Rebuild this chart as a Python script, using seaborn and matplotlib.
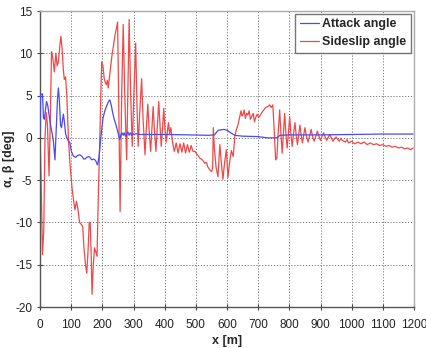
import matplotlib
matplotlib.use("Agg")
import matplotlib.pyplot as plt
import seaborn as sns
import pandas as pd

# Sideslip angle (beta) samples [m, deg]
side_x = [0, 3, 8, 12, 16, 20, 24, 29, 33, 37, 41, 46, 51, 55, 59, 64, 67, 71, 75, 78, 82, 86, 91, 96,
          103, 108, 112, 117, 122, 127, 132, 137, 141, 146, 150, 154, 158, 161, 164, 167, 171, 175, 179,
          183, 187, 192, 195, 198, 202, 206, 210, 213, 216, 219, 230, 240, 249, 253, 257, 262, 267, 272,
          278, 282, 286, 291, 296, 301, 307, 311, 315, 320, 326, 331, 337, 341, 346, 350, 355, 359, 363,
          367, 372, 376, 381, 385, 389, 393, 397, 401, 405, 409, 412, 416, 420, 425, 431, 437, 443,
          449, 455, 461, 467, 473, 479, 485, 491, 497, 505, 513, 521, 529, 534, 538, 545,
          551, 554, 556, 560, 565, 571, 577, 582, 587, 592, 598, 603, 608, 614, 620, 625, 630, 635, 641,
          645, 648, 651, 655, 659, 663, 667, 671, 675, 680, 684, 688, 692, 697, 702, 707, 712, 718, 724,
          731, 737, 742, 747, 752, 756, 760, 764, 769, 773, 777, 781, 785, 789, 793, 797, 801, 805, 809,
          813, 818, 822, 826, 830, 834, 838, 842, 846, 850, 855, 860, 865, 870, 875, 880, 885, 890, 895,
          900, 905, 910, 915, 920, 925, 930, 935, 940, 945, 950, 960, 965, 970, 980, 985, 990, 1000, 1010,
          1020, 1030, 1040, 1050, 1060, 1070, 1080, 1090, 1100, 1110, 1120, 1130, 1140, 1150, 1160, 1170,
          1180, 1190, 1197]
side_y = [0, -4, -13.8, -11, 0, 3, 1.5, -4.5, 2, 10.2, 9.5, 7.8, 10, 8.5, 9, 11, 12, 10.5, 8, 6.9, 7.2, 5,
          0, -3, -6, -7.5, -8.5, -7.5, -8.5, -10, -10.2, -10.5, -13, -15, -16, -13.5, -10, -10, -13.5,
          -18.5, -15, -13, -13.5, -14, -7, 0, 5, 9, 8.5, 7, 6.5, 6.3, 6.8, 5.9, 9.5, 12, 13.7, 3, -8.7, 5,
          13.4, 5, -2.6, 6, 14, 5, -1, 5, 11.2, 4, -1, 3, 7, 2, -2, 1, 4, 1, -1.6, 1, 3.7, 1, -1.6, 1, 4.3,
          1.5, -1, 1, 3.5, 1, -0.5, 0.8, 1.8, 0.5, 1.2, -0.5, -1.6, -0.6, -1.8, -0.7, -1.7, -0.6, -1.8,
          -0.8, -1.7, -0.9, -1.6, -1.6, -2.0, -2.4, -2.6, -3.0, -2.9, -3.4, -3.8,
          -4.0, -3.5, 1.2, -1.5, -3.5, -4.6, -0.8, -3, -4.9, -3, -1.4, -4.7, -3, -1.5, -2.2, 0.1, 1, 1.5,
          2.5, 3.2, 2.6, 2.7, 3.3, 2.3, 2.9, 2.7, 3.2, 2.2, 2.6, 2.9, 1.9, 2.4, 2.8, 2.4, 2.7, 3.0, 3.3,
          3.6, 3.7, 3.9, 3.6, 3.9, 0.5, -2.6, -2.4, 0.5, 3.3, 0.5, -1.8, 0.5, 2.9, 0.5, -1.2, 0.5, 2.5,
          0.5, -1.0, 0.3, 1.8, 0.3, -0.8, 0.3, 1.5, 0.3, -0.6, 0.3, 1.2, 0.2, -0.5, 0.2, 1.0, 0.1, -0.4,
          0.2, 0.8, 0.2, -0.3, 0.2, 0.6, 0.1, -0.3, 0.1, 0.4, 0.0, -0.4, -0.1, 0.1, -0.4, -0.1, -0.3, -0.5,
          -0.2, -0.6, -0.4, -0.7, -0.5, -0.7, -0.5, -0.8, -0.6, -0.8, -0.7, -0.9, -0.8, -1.0, -0.9, -1.1,
          -1.0, -1.2, -1.1, -1.3, -1.2, -1.4, -1.2]

# Attack angle (alpha) samples [m, deg]
attack_x = [0, 2, 8, 11, 14, 18, 21, 25, 29, 34, 39, 43, 48, 52, 56, 59, 62, 66, 69, 72, 75, 78, 82, 86,
            90, 96, 100, 105, 109, 115, 120, 128, 135, 140, 145, 150, 156, 160, 166, 172, 176, 180, 184,
            187, 190, 195, 202, 208, 214, 220, 224, 229, 233, 238, 244, 249, 253, 256, 259, 263, 267, 270,
            274, 278, 282, 286, 290, 294, 298, 302, 308, 320, 400, 480, 540, 560, 565, 572, 590, 600, 612,
            625, 650, 700, 730, 760, 770, 800, 900, 1000, 1100, 1197]
attack_y = [0.5, 5.1, 5.2, 2.4, 2.2, 3.5, 4.3, 3.8, 2.7, 1.5, 0.5, -0.4, -2.6, 1, 4.5, 5.9, 4.5, 1.5, 1.2, 2,
            2.8, 2, 0.5, 0, -0.3, -0.6, -1.5, -2.0, -2.2, -2.3, -2.1, -2.0, -2.2, -2.5, -2.5, -2.3, -2.2,
            -2.3, -2.6, -2.5, -2.6, -2.8, -3.2, -2.8, -2.0, 0, 2.3, 3.2, 3.8, 4.3, 4.5, 3.8, 3.0, 2.2, 1.5,
            0.8, 0.2, -0.2, 0.3, 0.6, 0.3, 0.6, 0.2, 0.4, 0.7, 0.3, 0.6, 0.3, 0.5, 0.4, 0.5, 0.4, 0.4, 0.35,
            0.3, 0.35, 0.6, 0.9, 1.0, 0.9, 0.6, 0.3, 0.2, 0.15, 0.0, 0.0, 0.3, 0.35, 0.35, 0.4, 0.45, 0.45]

x_ticks = list(range(0, 1201, 100))
y_ticks = list(range(-20, 16, 5))

sns.set_theme(style="white")
plt.rcParams['font.family'] = ['Liberation Sans', 'DejaVu Sans']
plt.rcParams['axes.unicode_minus'] = False

fig = plt.figure(figsize=(4.27, 3.48), dpi=100)
ax = fig.add_axes([40 / 427, 41 / 348, 374 / 427, 296 / 348])

df_a = pd.DataFrame({"x": attack_x, "y": attack_y})
df_s = pd.DataFrame({"x": side_x, "y": side_y})
sns.lineplot(data=df_a, x="x", y="y", ax=ax, color="#4a4af0", linewidth=0.9,
             label="Attack angle", sort=False, estimator=None, zorder=3)
sns.lineplot(data=df_s, x="x", y="y", ax=ax, color="#f04848", linewidth=0.9,
             label="Sideslip angle", sort=False, estimator=None, zorder=2)

ax.set_xlim(0, 1200)
ax.set_ylim(-20, 15)
ax.set_xticks(x_ticks)
ax.set_yticks(y_ticks)
ax.grid(True, linestyle=(0, (1.2, 1.8)), color="#777777", linewidth=0.7)
ax.tick_params(axis="both", direction="inout", length=5, width=0.8, color="#444444",
               labelsize=8.5, bottom=True, left=True, labelcolor="#222222")
ax.tick_params(axis="x", pad=6)
ax.tick_params(axis="y", pad=3)
ax.set_xlabel("x [m]", fontsize=9, fontweight="bold")
ax.set_ylabel("α, β [deg]", fontsize=9, fontweight="bold")
ax.xaxis.set_label_coords(0.5, -0.095)
ax.yaxis.set_label_coords(-0.068, 0.5)

for side in ["left", "bottom"]:
    ax.spines[side].set_color("#555555")
    ax.spines[side].set_linewidth(1.0)
for side in ["top", "right"]:
    ax.spines[side].set_color("#aaaaaa")
    ax.spines[side].set_linewidth(1.0)

leg = ax.legend(loc="upper right", fontsize=9, frameon=True, fancybox=False,
                borderpad=0.35, handlelength=1.5, handletextpad=0.3, labelspacing=0.45,
                borderaxespad=0.25)
leg.get_frame().set_edgecolor("#555555")
leg.get_frame().set_linewidth(1.0)
for t in leg.get_texts():
    t.set_fontweight("bold")

fig.savefig("out.png", dpi=100)
